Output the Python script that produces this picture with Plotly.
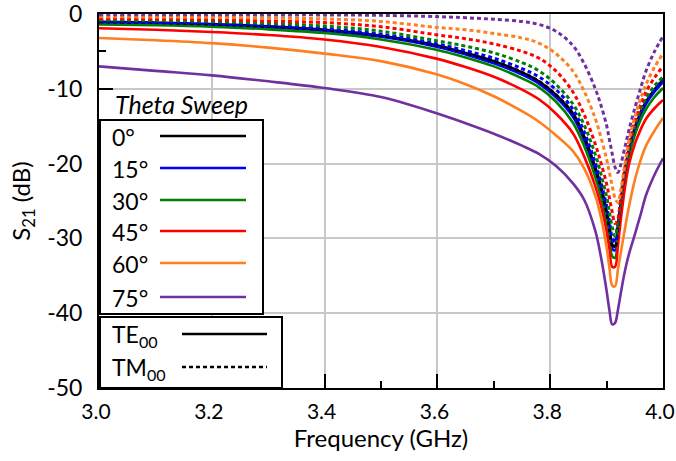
import plotly.graph_objects as go

# ---------------- data ----------------
freq = [3.0, 3.1, 3.2, 3.3, 3.4, 3.5, 3.6, 3.65, 3.7, 3.75, 3.78, 3.81, 3.84, 3.86, 3.88,
        3.89, 3.9, 3.905, 3.91, 3.915, 3.92, 3.925, 3.93, 3.935, 3.94, 3.95, 3.96, 3.97,
        3.985, 4.0]

angle_labels = ["0°", "15°", "30°", "45°", "60°", "75°"]
angle_colors = ["#000000", "#0000ff", "#008000", "#ff0000", "#ff7f1f", "#7030a0"]

te_0 = [-1.05, -1.15, -1.35, -1.65, -2.1, -2.9, -4.2, -5.2, -6.3, -7.8, -9.0, -10.8, -13.3,
        -16.4, -20.6, -23.2, -26.5, -28.6, -30.9, -31.1, -28.3, -25.2, -22.3, -19.9, -18.0,
        -15.2, -13.2, -11.7, -10.1, -8.8]
te_15 = [-1.15, -1.25, -1.45, -1.8, -2.25, -3.05, -4.4, -5.4, -6.6, -8.1, -9.3, -11.1, -13.7,
         -16.8, -21.0, -23.6, -26.9, -29.0, -31.4, -31.6, -28.7, -25.5, -22.6, -20.2, -18.3,
         -15.5, -13.5, -12.0, -10.4, -9.1]
te_30 = [-1.4, -1.5, -1.7, -2.05, -2.55, -3.4, -4.8, -5.8, -7.0, -8.6, -9.8, -11.7, -14.5,
         -17.6, -21.8, -24.4, -27.7, -29.9, -32.4, -32.6, -29.6, -26.4, -23.4, -21.0, -19.0,
         -16.2, -14.2, -12.7, -11.1, -9.9]
te_45 = [-1.9, -2.1, -2.4, -2.8, -3.4, -4.4, -6.0, -7.1, -8.4, -10.1, -11.4, -13.3, -15.9,
         -19.0, -23.0, -25.6, -29.0, -31.4, -33.8, -33.8, -31.0, -27.6, -24.6, -22.0, -20.0,
         -17.4, -15.5, -14.0, -12.6, -11.5]
te_60 = [-3.2, -3.5, -3.9, -4.5, -5.3, -6.3, -8.1, -9.4, -11.0, -13.0, -14.4, -16.2, -18.3,
         -20.6, -24.3, -27.2, -31.2, -33.9, -36.3, -36.4, -34.2, -32.0, -29.8, -27.6, -25.6,
         -22.2, -19.6, -17.6, -15.6, -13.9]
te_75 = [-7.0, -7.6, -8.2, -9.0, -9.9, -11.1, -13.3, -14.6, -16.0, -17.6, -18.7, -20.3, -22.6,
         -24.8, -29.0, -32.5, -37.0, -39.6, -41.5, -41.3, -39.6, -37.4, -35.3, -33.5, -32.0,
         -29.5, -26.9, -24.2, -21.5, -19.3]

tm_0 = [-1.05, -1.15, -1.35, -1.65, -2.1, -2.9, -4.2, -5.2, -6.3, -7.8, -9.0, -10.8, -13.3,
        -16.4, -20.6, -23.2, -26.5, -28.6, -30.9, -31.1, -28.3, -25.2, -22.3, -19.9, -18.0,
        -15.2, -13.2, -11.7, -10.1, -8.8]
tm_15 = [-0.95, -1.05, -1.2, -1.5, -1.95, -2.7, -4.0, -4.9, -5.9, -7.3, -8.4, -10.1, -12.7,
         -15.7, -19.9, -22.5, -25.6, -27.7, -29.9, -30.5, -28.0, -25.0, -22.2, -19.8, -17.9,
         -15.1, -13.1, -11.6, -10.0, -8.7]
tm_30 = [-0.8, -0.85, -1.0, -1.25, -1.6, -2.3, -3.6, -4.3, -5.2, -6.5, -7.6, -9.4, -12.0,
         -14.8, -18.8, -21.4, -24.4, -26.5, -28.5, -29.7, -27.8, -24.8, -22.0, -19.6, -17.7,
         -14.9, -12.8, -11.2, -9.6, -8.4]
tm_45 = [-0.6, -0.65, -0.75, -0.95, -1.15, -1.7, -2.8, -3.3, -4.0, -5.0, -5.9, -7.6, -10.4,
         -13.4, -17.4, -19.9, -22.7, -24.6, -26.5, -28.0, -27.4, -24.5, -21.7, -19.3, -17.3,
         -14.4, -12.2, -10.4, -8.5, -7.0]
tm_60 = [-0.35, -0.4, -0.45, -0.55, -0.65, -1.0, -1.8, -2.1, -2.6, -3.2, -3.9, -5.3, -7.6,
         -10.3, -14.0, -16.5, -19.4, -21.2, -23.0, -24.6, -25.2, -23.6, -21.2, -18.9, -16.8,
         -13.8, -11.4, -9.4, -7.1, -5.3]
tm_75 = [-0.1, -0.1, -0.1, -0.12, -0.12, -0.18, -0.35, -0.5, -0.7, -1.0, -1.4, -2.3, -4.2,
         -6.6, -10.0, -12.2, -14.9, -16.8, -18.7, -20.5, -21.2, -20.2, -18.6, -17.0, -15.4,
         -12.6, -10.0, -7.6, -5.0, -3.0]

te_series = [te_0, te_15, te_30, te_45, te_60, te_75]
tm_series = [tm_0, tm_15, tm_30, tm_45, tm_60, tm_75]

x_ticks = [3.0, 3.2, 3.4, 3.6, 3.8, 4.0]
x_ticktext = ["3.0", "3.2", "3.4", "3.6", "3.8", "4.0"]
y_ticks = [0, -10, -20, -30, -40, -50]
y_ticktext = ["0", "-10", "-20", "-30", "-40", "-50"]

mode_labels = ["TE<sub>00</sub>", "TM<sub>00</sub>"]

# ---------------- figure ----------------
W, H = 676, 461
ML, MR, MT, MB = 99, 13, 14, 73
PW, PH = W - ML - MR, H - MT - MB

def px(x):
    return (x - ML) / PW

def py(y):
    return (H - MB - y) / PH

FONT = "Lato"
DOT = "4px,3px"

fig = go.Figure()
for vals, col, lab in zip(te_series, angle_colors, angle_labels):
    fig.add_trace(go.Scatter(x=freq, y=vals, mode="lines", name="TE " + lab,
                             line=dict(color=col, width=2.6, shape="spline", smoothing=1.0)))
for vals, col, lab in zip(tm_series, angle_colors, angle_labels):
    fig.add_trace(go.Scatter(x=freq, y=vals, mode="lines", name="TM " + lab,
                             line=dict(color=col, width=3, dash=DOT, shape="spline", smoothing=1.0)))

shapes = []
annotations = []

# Theta sweep legend box
shapes.append(dict(type="rect", xref="paper", yref="paper", layer="above",
                   x0=px(100), x1=px(263), y0=py(314), y1=py(120),
                   fillcolor="white", line=dict(color="black", width=2)))
row_y = [136, 168, 200, 231, 263, 297]
for lab, col, yy in zip(angle_labels, angle_colors, row_y):
    shapes.append(dict(type="line", xref="paper", yref="paper", layer="above",
                       x0=px(160), x1=px(246), y0=py(yy), y1=py(yy),
                       line=dict(color=col, width=2.6)))
    annotations.append(dict(x=px(110), y=py(yy + 1), xref="paper", yref="paper",
                            text=lab, showarrow=False, xanchor="left", yanchor="middle",
                            font=dict(family=FONT, size=23, color="black")))

annotations.append(dict(x=px(113), y=py(104), xref="paper", yref="paper",
                        text="<i>Theta Sweep</i>", showarrow=False, xanchor="left",
                        yanchor="middle", font=dict(family=FONT, size=25, color="black")))

# TE/TM legend box
shapes.append(dict(type="rect", xref="paper", yref="paper", layer="above",
                   x0=px(100), x1=px(282), y0=py(388), y1=py(317),
                   fillcolor="white", line=dict(color="black", width=2)))
mode_y = [334, 367]
mode_dash = ["solid", "4px,3px"]
for lab, yy, dsh in zip(mode_labels, mode_y, mode_dash):
    shapes.append(dict(type="line", xref="paper", yref="paper", layer="above",
                       x0=px(182), x1=px(267), y0=py(yy), y1=py(yy),
                       line=dict(color="black", width=2.6, dash=dsh)))
    annotations.append(dict(x=px(110), y=py(yy + 1), xref="paper", yref="paper",
                            text=lab, showarrow=False, xanchor="left", yanchor="middle",
                            font=dict(family=FONT, size=23, color="black")))

fig.update_layout(
    width=W, height=H,
    margin=dict(l=ML, r=MR, t=MT, b=MB, autoexpand=False),
    plot_bgcolor="white", paper_bgcolor="white",
    showlegend=False,
    font=dict(family=FONT, size=23, color="black"),
    shapes=shapes, annotations=annotations,
)
fig.update_xaxes(
    range=[3.0, 4.0], tickvals=x_ticks, ticktext=x_ticktext,
    tickfont=dict(family=FONT, size=21),
    ticklabeloverflow="allow", automargin=False, ticklabelshift=-3,
    showgrid=True, gridcolor="#c8c8c8", gridwidth=2,
    showline=True, linecolor="black", linewidth=2, mirror=True,
    ticks="inside", ticklen=14, tickwidth=2, tickcolor="black",
    minor=dict(ticks="inside", ticklen=7, tickwidth=2, tickcolor="black", dtick=0.1, tick0=3.0, showgrid=False),
    ticklabelstandoff=4,
    title=dict(text="Frequency (GHz)", standoff=4, font=dict(family=FONT, size=24)),
    zeroline=False,
)
fig.update_yaxes(
    range=[-50, 0], tickvals=y_ticks, ticktext=y_ticktext,
    tickfont=dict(family=FONT, size=23),
    ticklabeloverflow="allow", automargin=False,
    showgrid=True, gridcolor="#c8c8c8", gridwidth=2,
    showline=True, linecolor="black", linewidth=2, mirror=True,
    ticks="inside", ticklen=14, tickwidth=2, tickcolor="black",
    minor=dict(ticks="inside", ticklen=7, tickwidth=2, tickcolor="black", dtick=5, tick0=0, showgrid=False),
    ticklabelstandoff=10,
    title=dict(text="S<sub>21</sub> (dB)", standoff=10, font=dict(family=FONT, size=24)),
    zeroline=False,
)

fig.write_html("out.html")
